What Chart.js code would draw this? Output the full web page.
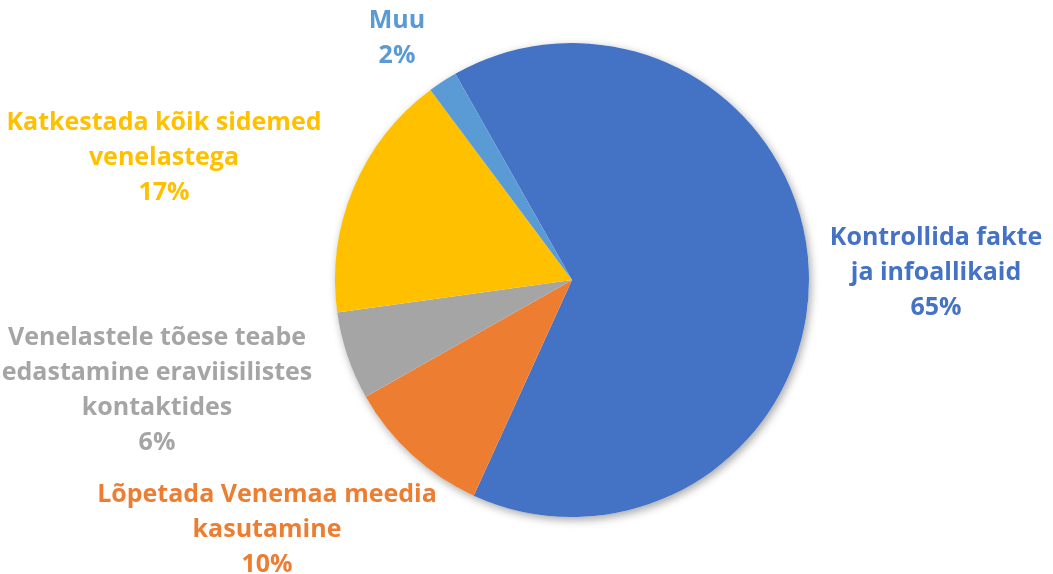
<!DOCTYPE html>
<html>
<head>
<meta charset="utf-8">
<script src="https://cdn.jsdelivr.net/npm/chart.js@4"></script>
<style>
  html, body { margin: 0; padding: 0; background: #fff; }
  #wrap { width: 1053px; height: 574px; position: relative; }
</style>
</head>
<body>
<div id="wrap"><canvas id="pie"></canvas></div>
<script>
  // data, clockwise from the blue slice
  const categories = [
    ["Kontrollida fakte", "ja infoallikaid"],
    ["Lõpetada Venemaa meedia", "kasutamine"],
    ["Venelastele tõese teabe", "edastamine eraviisilistes", "kontaktides"],
    ["Katkestada kõik sidemed", "venelastega"],
    ["Muu"],
  ];
  const shares = [65, 10, 6, 17, 2];
  const sliceColors = ["#4472C4", "#ED7D31", "#A5A5A5", "#FFC000", "#5B9BD5"];

  // where each label block sits, relative to the pie centre (first baseline)
  const labelOffsets = [
    [364, -35],
    [-305, 222],
    [-415, 65],
    [-408, -150],
    [-175, -252],
  ];

  const FONT = "bold 25px 'Open Sans', 'Noto Sans', sans-serif";
  const LINE = 35;

  // soft drop shadow under the whole pie
  const pieShadow = {
    id: "pieShadow",
    beforeDatasetsDraw(chart) {
      const arc = chart.getDatasetMeta(0).data[0];
      if (!arc) return;
      const ctx = chart.ctx;
      ctx.save();
      ctx.shadowColor = "rgba(0,0,0,0.35)";
      ctx.shadowBlur = 9;
      ctx.shadowOffsetX = 2;
      ctx.shadowOffsetY = 3;
      ctx.fillStyle = "#fff";
      ctx.beginPath();
      ctx.arc(arc.x, arc.y, arc.outerRadius, 0, Math.PI * 2);
      ctx.fill();
      ctx.restore();
    },
  };

  const sliceLabels = {
    id: "sliceLabels",
    afterDatasetsDraw(chart) {
      const meta = chart.getDatasetMeta(0);
      const ctx = chart.ctx;
      ctx.save();
      ctx.font = FONT;
      ctx.textAlign = "center";
      ctx.textBaseline = "alphabetic";
      meta.data.forEach((arc, i) => {
        const lines = categories[i].concat([`${shares[i]}%`]);
        const x = arc.x + labelOffsets[i][0];
        const y = arc.y + labelOffsets[i][1];
        ctx.fillStyle = sliceColors[i];
        lines.forEach((t, k) => ctx.fillText(t, x, y + k * LINE));
      });
      ctx.restore();
    },
  };

  new Chart(document.getElementById("pie"), {
    type: "pie",
    data: {
      labels: categories.map((c) => c.join(" ")),
      datasets: [{
        data: shares,
        backgroundColor: sliceColors,
        borderWidth: 0,
        hoverOffset: 0,
      }],
    },
    options: {
      responsive: true,
      maintainAspectRatio: false,
      animation: false,
      rotation: -29.5,
      layout: { padding: { top: 43, bottom: 57, left: 300, right: 209 } },
      plugins: {
        legend: { display: false },
        tooltip: { enabled: false },
      },
    },
    plugins: [pieShadow, sliceLabels],
  });
</script>
</body>
</html>
